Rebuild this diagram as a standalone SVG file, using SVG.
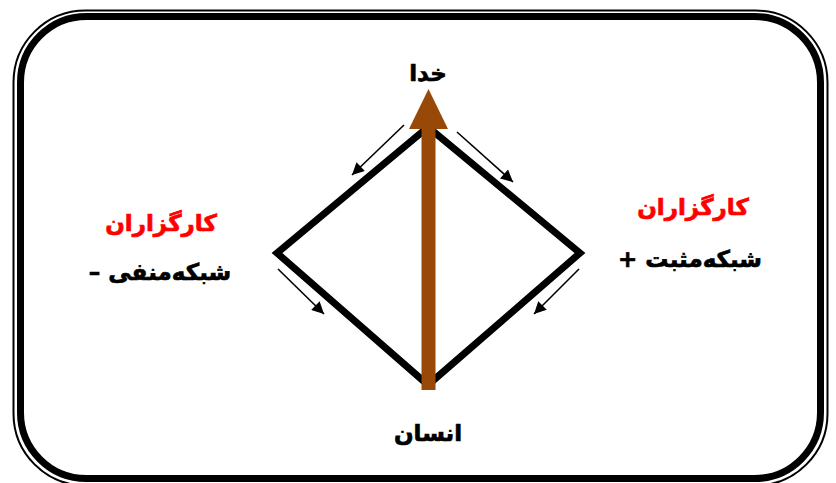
<svg xmlns="http://www.w3.org/2000/svg" width="836" height="483" viewBox="0 0 836 483">
<style>
.t{font-family:"DejaVu Sans","Noto Sans",sans-serif;font-weight:bold;text-anchor:middle;stroke-width:0.7;font-size:23px}
.red{fill:#ff0000;stroke:#ff0000}
.blk{fill:#000;stroke:#000}
.small{stroke:#000;stroke-width:1.6;fill:none}
</style>
<defs>
<marker id="ah" viewBox="0 0 10 10" refX="10" refY="5" markerWidth="16" markerHeight="12" markerUnits="userSpaceOnUse" orient="auto">
<path d="M0,0 L10,5 L0,10 z" fill="#000"/>
</marker>
</defs>
<rect width="836" height="483" fill="#fff"/>
<g id="frame">
<rect x="13.5" y="10.5" width="814" height="475" rx="72" ry="72" fill="none" stroke="#000" stroke-width="2"/>
<rect x="20.5" y="16.5" width="800" height="462" rx="66" ry="66" fill="none" stroke="#000" stroke-width="7"/>
</g>
<g id="connectors">
<polygon id="diamond" points="428,127 580,253 428,385 277,253" fill="none" stroke="#000" stroke-width="7" stroke-linejoin="miter"/>
<g id="flow-arrows">
<line class="small" x1="404" y1="125" x2="352" y2="175" marker-end="url(#ah)"/>
<line class="small" x1="457" y1="132" x2="513" y2="182" marker-end="url(#ah)"/>
<line class="small" x1="278" y1="269" x2="324" y2="314" marker-end="url(#ah)"/>
<line class="small" x1="579" y1="269" x2="534" y2="314" marker-end="url(#ah)"/>
</g>
<g id="brown-arrow">
<rect x="421.5" y="127" width="14" height="263" fill="#984807"/>
<polygon points="428.5,89 448,129 409,129" fill="#984807"/>
</g>
</g>
<g id="node-god"><text class="t blk" x="428" y="81">خدا</text></g>
<g id="node-human"><text class="t blk" x="428" y="441">انسان</text></g>
<g id="node-left">
<text class="t red" x="161" y="231" direction="rtl">کارگزاران</text>
<text class="t blk" x="160" y="280" direction="rtl">شبکه‌منفی –</text>
</g>
<g id="node-right">
<text class="t red" x="693" y="215" direction="rtl">کارگزاران</text>
<text class="t blk" x="690" y="267" direction="rtl">شبکه‌مثبت +</text>
</g>
</svg>
